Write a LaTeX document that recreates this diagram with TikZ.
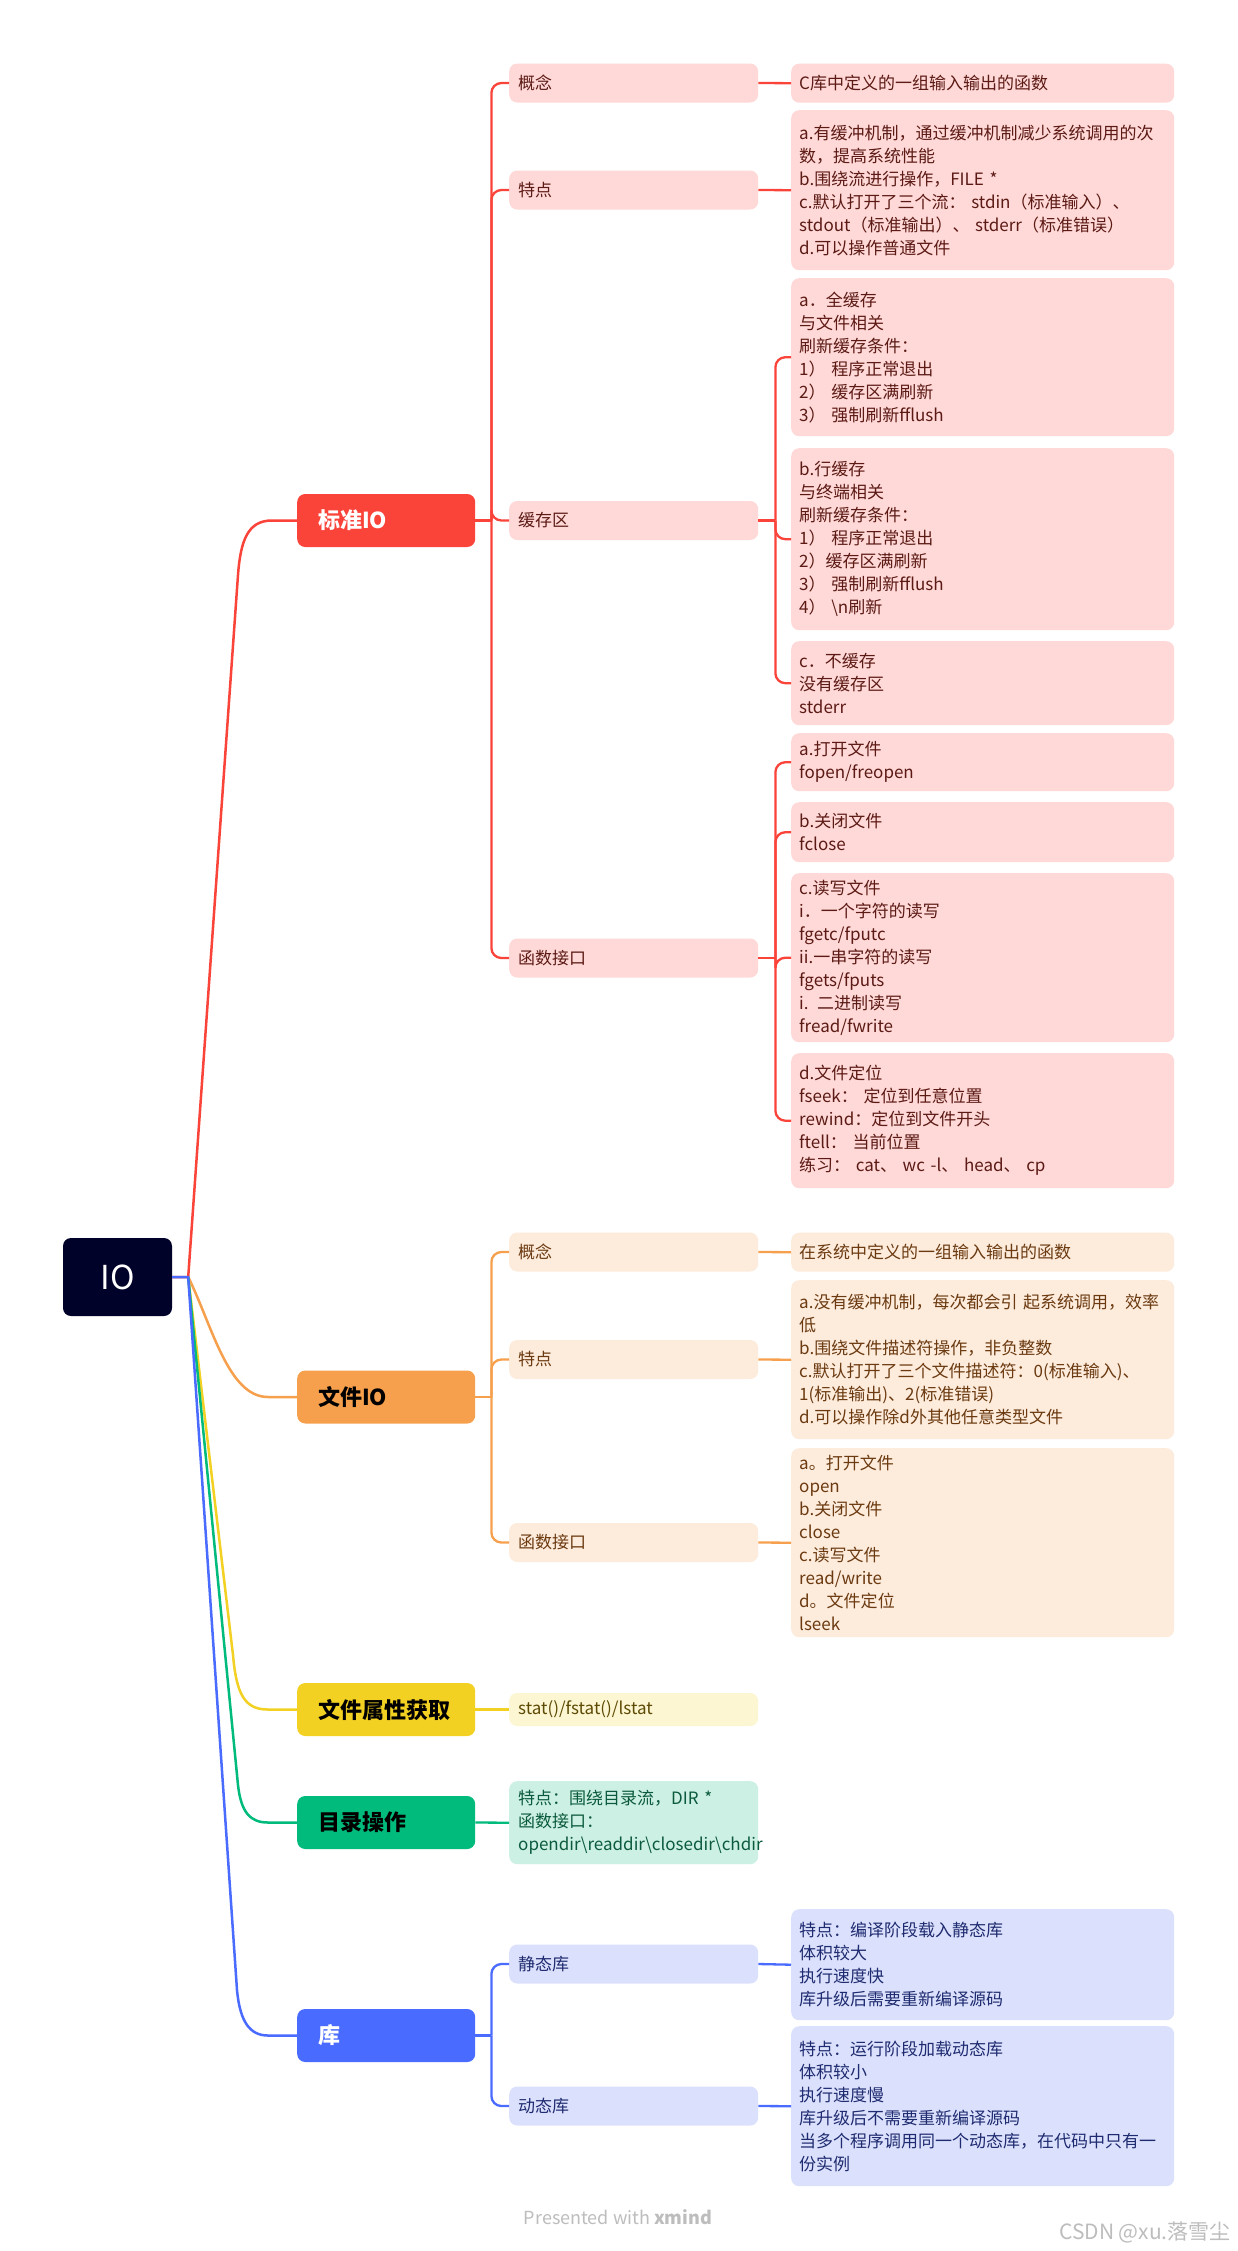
\documentclass[tikz,border=0pt]{standalone}
\usepackage{fontspec}
\setmainfont{Noto Sans CJK SC}
\definecolor{rootc}{HTML}{000229}
\definecolor{redc}{HTML}{FA443A}
\definecolor{redl}{HTML}{FFD9D8}
\definecolor{redt}{HTML}{5C1A14}
\definecolor{orc}{HTML}{F6A04D}
\definecolor{orl}{HTML}{FDEBDC}
\definecolor{ort}{HTML}{6B3A10}
\definecolor{yec}{HTML}{F2D123}
\definecolor{yel}{HTML}{FCF6D2}
\definecolor{yet}{HTML}{5E4B05}
\definecolor{grc}{HTML}{00BB7B}
\definecolor{grl}{HTML}{CCF0E3}
\definecolor{grt}{HTML}{0B5A3D}
\definecolor{blc}{HTML}{4A6BFF}
\definecolor{bll}{HTML}{DBE1FC}
\definecolor{blt}{HTML}{1F2B70}
\definecolor{wmc}{HTML}{BDBDBD}
\tikzset{
  rootbox/.style={fill=rootc, text=white, rounded corners=8pt, minimum width=109pt, minimum height=78pt, inner sep=0pt, font=\fontsize{33}{38}\selectfont},
  mainbox/.style={anchor=west, rounded corners=8pt, minimum height=53pt, text width=136pt, inner xsep=21pt, inner ysep=0pt, align=left, font=\bfseries\fontsize{22}{26}\selectfont},
  subbox/.style={anchor=west, rounded corners=8pt, minimum height=39pt, text width=231pt, inner xsep=9pt, inner ysep=0pt, align=left, font=\fontsize{17}{23}\selectfont},
  leafbox/.style={anchor=north west, rounded corners=8pt, text width=367pt, inner xsep=8pt, inner ysep=0pt, align=left, font=\fontsize{17}{23}\selectfont},
  greenbox/.style={anchor=north west, rounded corners=8pt, text width=231pt, inner xsep=9pt, inner ysep=0pt, align=left, font=\fontsize{17}{23}\selectfont},
  mainconn/.style={line width=2.5pt},
  conn/.style={line width=2.3pt, rounded corners=10pt},
}
\begin{document}
\begin{tikzpicture}[x=1pt,y=-1pt]
\fill[white] (0,0) rectangle (1237,2251);
\useasboundingbox (0,0) rectangle (1237,2251);

% root
\node[rootbox] (root) at (117.5,1277) {IO};

% main nodes
\node[mainbox, fill=redc, text=white] (std) at (297,520.5) {标准IO};
\node[mainbox, fill=orc, text=black] (fio) at (297,1397) {文件IO};
\node[mainbox, fill=yec, text=black] (attr) at (297,1709.5) {文件属性获取};
\node[mainbox, fill=grc, text=black] (dir) at (297,1822.5) {目录操作};
\node[mainbox, fill=blc, text=white] (lib) at (297,2035.5) {库};

% red sub nodes
\node[subbox, fill=redl, text=redt] (r1) at (509,83) {概念};
\node[subbox, fill=redl, text=redt] (r2) at (509,190) {特点};
\node[subbox, fill=redl, text=redt] (r3) at (509,520.5) {缓存区};
\node[subbox, fill=redl, text=redt] (r4) at (509,958) {函数接口};

\node[leafbox, fill=redl, text=redt, minimum height=39pt] (r1d) at (791,63.5) {C库中定义的一组输入输出的函数};
\node[leafbox, fill=redl, text=redt, minimum height=160pt] (r2d) at (791,110) {a.有缓冲机制，通过缓冲机制减少系统调用的次\\数，提高系统性能\\b.围绕流进行操作，FILE *\\c.默认打开了三个流： stdin（标准输入）、\\stdout（标准输出）、 stderr（标准错误）\\d.可以操作普通文件};
\node[leafbox, fill=redl, text=redt, minimum height=158pt] (r3a) at (791,278) {a．全缓存\\与文件相关\\刷新缓存条件：\\1） 程序正常退出\\2） 缓存区满刷新\\3） 强制刷新fflush};
\node[leafbox, fill=redl, text=redt, minimum height=182pt] (r3b) at (791,448) {b.行缓存\\与终端相关\\刷新缓存条件：\\1） 程序正常退出\\2）缓存区满刷新\\3） 强制刷新fflush\\4） \textbackslash n刷新};
\node[leafbox, fill=redl, text=redt, minimum height=84pt] (r3c) at (791,641) {c．不缓存\\没有缓存区\\stderr};
\node[leafbox, fill=redl, text=redt, minimum height=58pt] (r4a) at (791,733) {a.打开文件\\fopen/freopen};
\node[leafbox, fill=redl, text=redt, minimum height=60pt] (r4b) at (791,802) {b.关闭文件\\fclose};
\node[leafbox, fill=redl, text=redt, minimum height=169pt] (r4c) at (791,873) {c.读写文件\\i．一个字符的读写\\fgetc/fputc\\ii.一串字符的读写\\fgets/fputs\\i. 二进制读写\\fread/fwrite};
\node[leafbox, fill=redl, text=redt, minimum height=135pt] (r4d) at (791,1053) {d.文件定位\\fseek： 定位到任意位置\\rewind：定位到文件开头\\ftell： 当前位置\\练习： cat、 wc -l、 head、 cp};

% orange sub nodes
\node[subbox, fill=orl, text=ort] (o1) at (509,1252) {概念};
\node[subbox, fill=orl, text=ort] (o2) at (509,1359.5) {特点};
\node[subbox, fill=orl, text=ort] (o3) at (509,1542.5) {函数接口};

\node[leafbox, fill=orl, text=ort, minimum height=39pt] (o1d) at (791,1232.5) {在系统中定义的一组输入输出的函数};
\node[leafbox, fill=orl, text=ort, minimum height=159pt] (o2d) at (791,1280) {a.没有缓冲机制，每次都会引 起系统调用，效率\\低\\b.围绕文件描述符操作，非负整数\\c.默认打开了三个文件描述符：0(标准输入)、\\1(标准输出)、2(标准错误)\\d.可以操作除d外其他任意类型文件};
\node[leafbox, fill=orl, text=ort, minimum height=189pt] (o3d) at (791,1448) {a。打开文件\\open\\b.关闭文件\\close\\c.读写文件\\read/write\\d。文件定位\\lseek};

% yellow
\node[subbox, fill=yel, text=yet, minimum height=33pt] (y1) at (509,1709.5) {stat()/fstat()/lstat};

% green
\node[greenbox, fill=grl, text=grt, minimum height=83pt] (g1) at (509,1781) {特点：围绕目录流，DIR *\\函数接口：\\opendir\textbackslash readdir\textbackslash closedir\textbackslash chdir};

% blue
\node[subbox, fill=bll, text=blt] (b1) at (509,1964) {静态库};
\node[subbox, fill=bll, text=blt] (b2) at (509,2106) {动态库};
\node[leafbox, fill=bll, text=blt, minimum height=111pt] (b1d) at (791,1909) {特点：编译阶段载入静态库\\体积较大\\执行速度快\\库升级后需要重新编译源码};
\node[leafbox, fill=bll, text=blt, minimum height=160pt] (b2d) at (791,2026) {特点：运行阶段加载动态库\\体积较小\\执行速度慢\\库升级后不需要重新编译源码\\当多个程序调用同一个动态库，在代码中只有一\\份实例};

% watermarks
\node[text=wmc, font=\fontsize{18}{21}\selectfont, inner sep=0pt] (xm) at (618,2217) {Presented with \textbf{xmind}};
\node[text=wmc, font=\fontsize{21}{24}\selectfont, anchor=east, inner sep=0pt] (csdn) at (1231,2232) {CSDN @xu.落雪尘};

% root branches
\coordinate (rj) at ([xshift=16pt]root.east);
\draw[mainconn, redc] (root.east) -- (rj) -- (238,575) .. controls (240.6,540) and (248,520.5) .. (272,520.5) -- (std.west);
\draw[mainconn, orc] (rj) .. controls (212,1325) and (228,1397) .. (268,1397) -- (fio.west);
\draw[mainconn, yec] (rj) -- (233,1655) .. controls (236.5,1695) and (245,1709.5) .. (268,1709.5) -- (attr.west);
\draw[mainconn, grc] (rj) -- (238,1785) .. controls (241,1812) and (250,1822.5) .. (268,1822.5) -- (dir.west);
\draw[mainconn, blc] (root.east) -- (rj) -- (237,1990) .. controls (240,2022) and (250,2035.5) .. (268,2035.5) -- (lib.west);

% red level 2
\coordinate (stdj) at ([xshift=16pt]std.east);
\draw[conn, redc] (std.east) -- (stdj);
\foreach \c in {r1,r2,r3,r4} \draw[conn, redc] (\c.west) -- (\c.west -| stdj) -- (stdj);
\draw[conn, redc] (r1.east) -- (r1d.west);
\draw[conn, redc] (r2.east) -- (r2d.west);
\coordinate (r3j) at ([xshift=17pt]r3.east);
\draw[conn, redc] (r3.east) -- (r3j);
\foreach \c in {r3a,r3b,r3c} \draw[conn, redc] (\c.west) -- (\c.west -| r3j) -- (r3j);
\coordinate (r4j) at ([xshift=17pt]r4.east);
\draw[conn, redc] (r4.east) -- (r4j);
\foreach \c in {r4a,r4b,r4c,r4d} \draw[conn, redc] (\c.west) -- (\c.west -| r4j) -- (r4j);

% orange level 2
\coordinate (fioj) at ([xshift=16pt]fio.east);
\draw[conn, orc] (fio.east) -- (fioj);
\foreach \c in {o1,o2,o3} \draw[conn, orc] (\c.west) -- (\c.west -| fioj) -- (fioj);
\draw[conn, orc] (o1.east) -- (o1d.west);
\draw[conn, orc] (o2.east) -- (o2d.west);
\draw[conn, orc] (o3.east) -- (o3d.west);

% yellow, green
\draw[conn, yec] (attr.east) -- (y1.west);
\draw[conn, grc] (dir.east) -- (g1.west);

% blue level 2
\coordinate (libj) at ([xshift=16pt]lib.east);
\draw[conn, blc] (lib.east) -- (libj);
\foreach \c in {b1,b2} \draw[conn, blc] (\c.west) -- (\c.west -| libj) -- (libj);
\draw[conn, blc] (b1.east) -- (b1d.west);
\draw[conn, blc] (b2.east) -- (b2d.west);
\end{tikzpicture}
\end{document}
